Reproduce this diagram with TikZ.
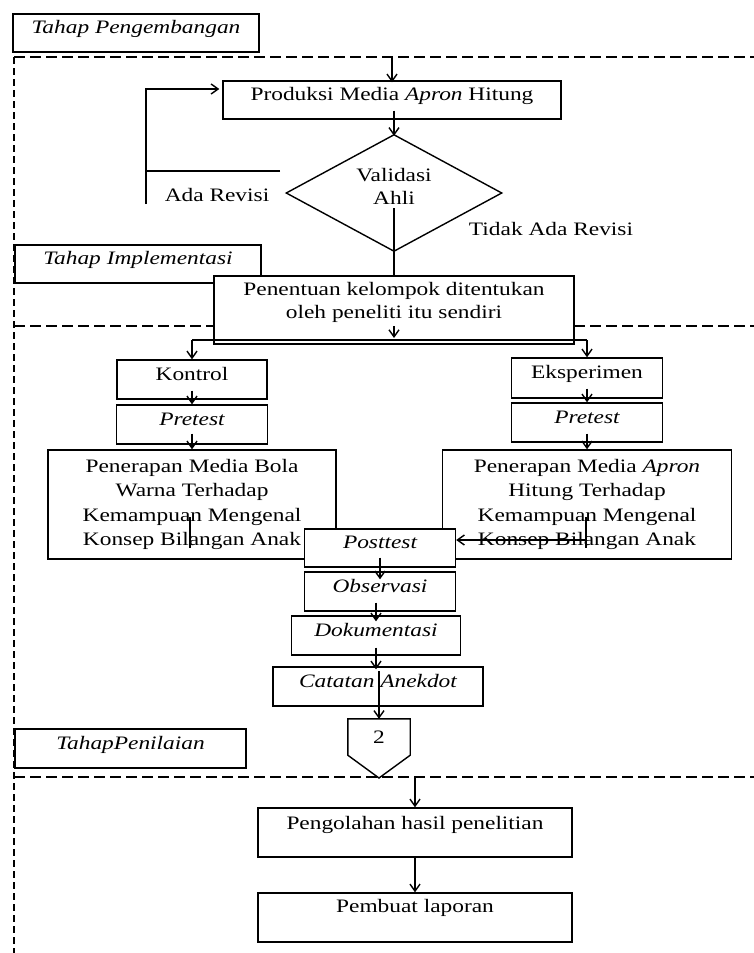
\documentclass[tikz,border=0pt]{standalone}
\usepackage{fontspec}
\setmainfont[FakeStretch=1.23]{Liberation Serif}
\usetikzlibrary{shapes.geometric,arrows.meta,calc}
\begin{document}
\begin{tikzpicture}[x=1pt,y=-1pt,
  every node/.style={font=\fontsize{19}{23}\selectfont},
  itf/.style={font=\fontsize{19}{23}\selectfont\itshape},
  sbox/.style={draw, line width=1.4pt, fill=white, inner sep=0pt, text height=13pt, text depth=12pt},
  mbox/.style={draw, line width=1.4pt, fill=white, inner sep=0pt, align=center},
  lbl/.style={inner sep=0pt},
  conn/.style={line width=1.4pt},
  arr/.style={line width=1.4pt, -{Straight Barb[length=7pt,width=10pt]}},
  zone/.style={line width=1.4pt, dash pattern=on 11pt off 5pt},
  zonev/.style={line width=1.4pt, dash pattern=on 7pt off 4pt}]
\useasboundingbox (0,0) rectangle (754,953);
\fill[white] (0,0) rectangle (754,953);

% zone boundaries
\coordinate (d1l) at (14,57);  \coordinate (d1r) at (754,57);
\coordinate (d2l) at (14,326); \coordinate (d2r) at (754,326);
\coordinate (d3l) at (14,777); \coordinate (d3r) at (754,777);
\coordinate (vb) at (14,953);
\draw[zone] (d1l) -- (d1r);
\draw[zone] (d2l) -- (d2r);
\draw[zone] (d3l) -- (d3r);
\draw[zonev] (d1l) -- (vb);

% nodes
\node[sbox, itf, minimum width=246, minimum height=38] (tp) at (136,33) {Tahap Pengembangan};
\node[sbox, minimum width=338, minimum height=38] (prod) at (392,100) {Produksi Media \textit{Apron} Hitung};
\node[mbox, diamond, aspect=1.85, minimum width=216, minimum height=117] (val) at (394,193) {Validasi\\Ahli\rule[-13pt]{0pt}{13pt}};
\node[lbl] (ada) at (217,195) {Ada Revisi};
\node[lbl] (tidak) at (551,229) {Tidak Ada Revisi};
\node[sbox, itf, minimum width=246, minimum height=38] (ti) at (138,264) {Tahap Implementasi};
\node[mbox, minimum width=360, minimum height=68] (pen) at (394,310) {Penentuan kelompok ditentukan\\oleh peneliti itu sendiri\rule[-20pt]{0pt}{20pt}};

\node[sbox, minimum width=150, minimum height=39] (kon) at (192,379.5) {Kontrol};
\node[sbox, minimum width=151, minimum height=40] (eks) at (587,378) {Eksperimen};
\node[sbox, itf, minimum width=151, minimum height=39] (pl) at (192,424.5) {Pretest};
\node[sbox, itf, minimum width=151, minimum height=39] (pr) at (587,422.5) {Pretest};
\node[mbox, font=\fontsize{19}{24.3}\selectfont, minimum width=288, minimum height=109] (penL) at (192,504.5)
  {Penerapan Media Bola\\Warna Terhadap\\Kemampuan Mengenal\\Konsep Bilangan Anak};
\node[mbox, font=\fontsize{19}{24.3}\selectfont, minimum width=289, minimum height=109] (penR) at (587,504.5)
  {Penerapan Media \textit{Apron}\\Hitung Terhadap\\Kemampuan Mengenal\\Konsep Bilangan Anak};
\node[sbox, itf, minimum width=151, minimum height=38] (post) at (380,548) {Posttest};
\node[sbox, itf, minimum width=151, minimum height=39] (obs) at (380,591.5) {Observasi};
\node[sbox, itf, minimum width=169, minimum height=39] (dok) at (376,635.5) {Dokumentasi};
\node[sbox, itf, minimum width=210, minimum height=39] (cat) at (378,686.5) {Catatan Anekdot};
\node[lbl, minimum width=62, minimum height=36] (off) at (379,737) {2};
\coordinate (offtip) at (379,778);
\draw[line width=1.4pt] (off.north west) -- (off.north east) -- (off.south east) -- (offtip) -- (off.south west) -- cycle;
\node[sbox, itf, minimum width=231, minimum height=39] (tpn) at (130.5,748.5) {TahapPenilaian};
\node[sbox, text depth=20pt, minimum width=314, minimum height=49] (peng) at (415,832.5) {Pengolahan hasil penelitian};
\node[sbox, text depth=24pt, minimum width=314, minimum height=49] (lap) at (415,917.5) {Pembuat laporan};

% connectors
\draw[arr] (prod.north |- d1l) -- ($(prod.north)+(0,2)$);
\draw[arr] ($(val.north |- prod.south)+(0,-9)$) -- ($(val.north)+(0,2)$);
\coordinate (arA) at (280,171);
\coordinate (arB) at (146,171);
\coordinate (arC) at (146,204);
\coordinate (arD) at (146,89);
\draw[conn] (arA) -- (arB);
\draw[arr] (arC) -- (arD) -- ($(arD -| prod.west)+(-3,0)$);
\draw[conn] ($(val.center)+(0,15)$) -- (pen.north);
\draw[arr] (pen.center |- d2l) -- ($(pen.center |- d2l)+(0,12)$);
\coordinate (brL) at (192,340);
\coordinate (brR) at (587,340);
\draw[conn] (brL) -- (brR);
\draw[arr] (brL) -- (kon.north);
\draw[arr] (brR) -- (eks.north);
\draw[arr] ($(kon.south)+(0,-9)$) -- (pl.north);
\draw[arr] ($(eks.south)+(0,-10)$) -- (pr.north);
\draw[arr] ($(pl.south)+(0,-11)$) -- (penL.north);
\draw[arr] ($(pr.south)+(0,-9)$) -- (penR.north);
\coordinate (iL1) at (190,517); \coordinate (iL2) at (190,548);
\draw[conn] (iL1) -- (iL2);
\coordinate (iR1) at (586,517); \coordinate (iR2) at (586,548); \coordinate (iR3) at (586,540);
\draw[conn] (iR1) -- (iR2);
\draw[arr] (iR3) -- (iR3 -| post.east);
\draw[arr] ($(post.south)+(0,-10)$) -- ($(obs.north)+(0,8)$);
\draw[arr] ($(dok.north |- obs.south)+(0,-9)$) -- ($(dok.north)+(0,6)$);
\draw[arr] ($(dok.south)+(0,-8)$) -- ($(dok.south |- cat.north)+(0,3)$);
\draw[arr] ($(off.north |- cat.north)+(0,5)$) -- (off.north);
\draw[arr] (peng.north |- d3l) -- (peng.north);
\draw[arr] (peng.south) -- (lap.north);
\end{tikzpicture}
\end{document}
